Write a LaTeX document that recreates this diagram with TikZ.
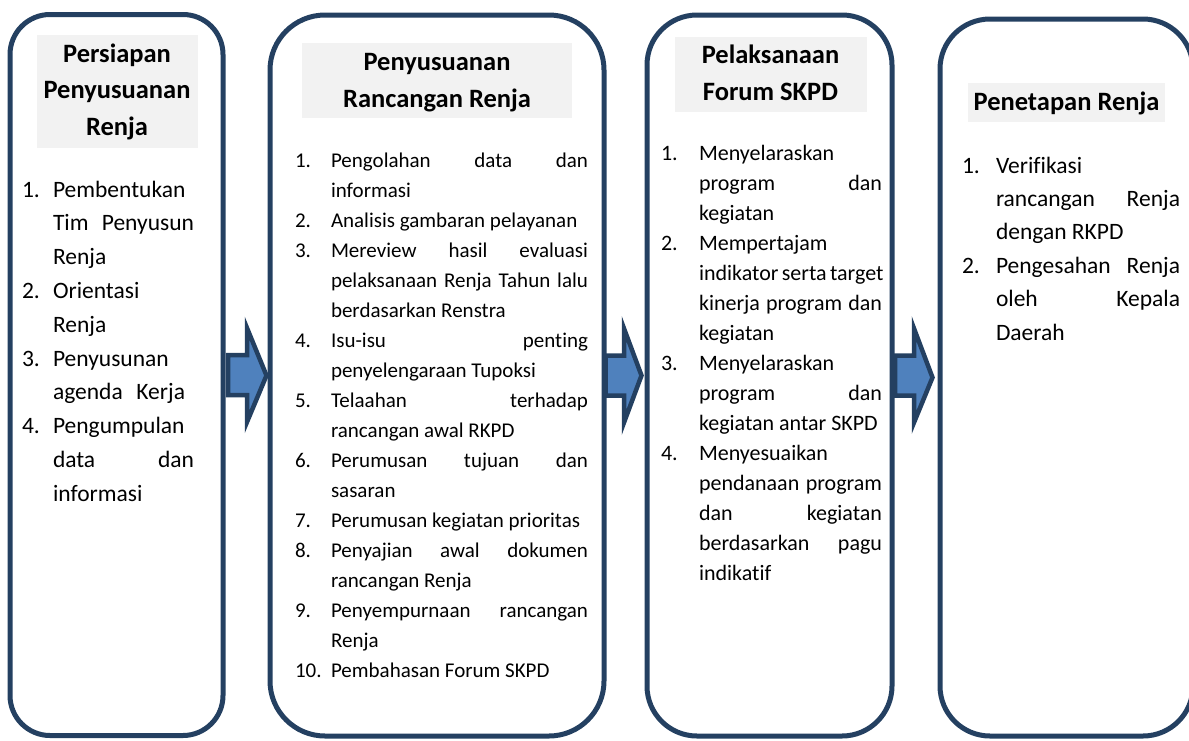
\documentclass[tikz,border=0pt]{standalone}
\usepackage{fontspec}
\setmainfont{Carlito}[Ligatures=NoCommon]
\usetikzlibrary{calc}
\definecolor{navy}{RGB}{36,64,97}
\definecolor{arrowblue}{RGB}{79,129,189}
\definecolor{hdrgray}{RGB}{242,242,242}
\newlength\lw
\newcommand\J[1]{\makebox[\lw][s]{#1}}
\newcommand\barrow[6]{% from, to, left off, head off, tip off, name
  \draw[barrowstyle] ($(#1.east)+(#3,-20)$) coordinate (#6a) -- ($(#1.east)+(#4,-20)$) -- ($(#1.east)+(#4,-47)$)
    -- ($(#2.west)+(#5,0)$) -- ($(#1.east)+(#4,47)$) -- ($(#1.east)+(#4,20)$) -- ($(#1.east)+(#3,20)$) -- cycle;}
\begin{document}
\begin{tikzpicture}[x=1pt,y=-1pt,
  panel/.style={draw=navy,line width=5pt,fill=white,rectangle,inner sep=0pt},
  hdr/.style={fill=hdrgray,inner sep=0pt,rectangle},
  htext/.style={anchor=base,inner sep=0pt,font=\fontsize{26.5}{30}\selectfont\bfseries},
  body/.style={anchor=base west,inner sep=0pt,outer sep=0pt},
  bigfont/.style={font=\fontsize{23.5}{28}\selectfont},
  midfont/.style={font=\fontsize{21}{25}\selectfont},
  medfont/.style={font=\fontsize{22}{26}\selectfont},
  barrowstyle/.style={draw=navy,fill=arrowblue,line width=4.5pt,line join=miter}]
\useasboundingbox (0,0) rectangle (1189,740);
% panels
\node[panel,rounded corners=40pt,minimum width=213pt,minimum height=721pt] (p1) at (116.5,375) {};
\node[panel,rounded corners=55pt,minimum width=334pt,minimum height=721pt] (p2) at (437,375.5) {};
\node[panel,rounded corners=50pt,minimum width=245pt,minimum height=721pt] (p3) at (769.5,375.5) {};
\node[panel,rounded corners=50pt,minimum width=253pt,minimum height=717pt] (p4) at (1066.5,377.5) {};
% arrows
\barrow{p1}{p2}{2.5}{21.5}{-1}{ar1}
\barrow{p2}{p3}{-1}{17.5}{-3}{ar2}
\barrow{p3}{p4}{0.5}{19.5}{-5}{ar3}
% headers
\node[hdr,minimum width=161pt,minimum height=113pt] (h1) at (117.5,91.5) {};
\node[htext] (h1a) at (117,62) {Persiapan};
\node[htext] (h1b) at (117,98.5) {Penyusuanan};
\node[htext] (h1c) at (117,135) {Renja};
\node[hdr,minimum width=270pt,minimum height=75pt] (h2) at (437,80.5) {};
\node[htext] (h2a) at (437,70) {Penyusuanan};
\node[htext] (h2b) at (437,107) {Rancangan Renja};
\node[hdr,minimum width=192pt,minimum height=75pt] (h3) at (771,74.5) {};
\node[htext] (h3a) at (770.5,63) {Pelaksanaan};
\node[htext] (h3b) at (770.5,100) {Forum SKPD};
\node[hdr,minimum width=197pt,minimum height=39pt] (h4) at (1066.5,102.5) {};
\node[htext] (h4a) at (1066.5,110) {Penetapan Renja};
% box 1 body
\setlength\lw{141pt}
\foreach \t [count=\i] in {{Pembentukan},{\J{Tim Penyusun}},{Renja},{Orientasi},{Renja},{Penyusunan},{\makebox[132pt][s]{agenda Kerja}},{Pengumpulan},{\J{data dan}},{informasi}}
  \node[body,bigfont] (b1t\i) at (53,{197+33.8*(\i-1)}) {\t};
\foreach \n/\k in {1/1,2/4,3/6,4/8}
  \node[body,bigfont] (b1n\n) at (22,{197+33.8*(\k-1)}) {\n.};
% box 2 body
\setlength\lw{257pt}
\foreach \t [count=\i] in {{\J{Pengolahan data dan}},{informasi},{Analisis gambaran pelayanan},{\J{Mereview hasil evaluasi}},{\J{pelaksanaan Renja Tahun lalu}},{berdasarkan Renstra},{\J{Isu-isu penting}},{penyelengaraan Tupoksi},{\J{Telaahan terhadap}},{rancangan awal RKPD},{\J{Perumusan tujuan dan}},{sasaran},{Perumusan kegiatan prioritas},{\J{Penyajian awal dokumen}},{rancangan Renja},{\J{Penyempurnaan rancangan}},{Renja},{Pembahasan Forum SKPD}}
  \node[body,midfont] (b2t\i) at (331,{167+30*(\i-1)}) {\t};
\foreach \n/\k in {1/1,2/3,3/4,4/7,5/9,6/11,7/13,8/14,9/16,10/18}
  \node[body,midfont] (b2n\n) at (295,{167+30*(\k-1)}) {\n.};
% box 3 body
\setlength\lw{183pt}
\foreach \t [count=\i] in {{Menyelaraskan},{\J{program dan}},{kegiatan},{Mempertajam},{\J{indikator serta target}},{\J{kinerja program dan}},{kegiatan},{Menyelaraskan},{\J{program dan}},{kegiatan antar SKPD},{Menyesuaikan},{\J{pendanaan program}},{\J{dan kegiatan}},{\J{berdasarkan pagu}},{indikatif}}
  \node[body,medfont] (b3t\i) at (699,{160+30*(\i-1)}) {\t};
\foreach \n/\k in {1/1,2/4,3/8,4/11}
  \node[body,medfont] (b3n\n) at (661,{160+30*(\k-1)}) {\n.};
% box 4 body
\setlength\lw{184pt}
\foreach \t [count=\i] in {{Verifikasi},{\J{rancangan Renja}},{dengan RKPD},{\J{Pengesahan Renja}},{\J{oleh Kepala}},{Daerah}}
  \node[body,bigfont] (b4t\i) at (996,{173+33.4*(\i-1)}) {\t};
\foreach \n/\k in {1/1,2/4}
  \node[body,bigfont] (b4n\n) at (962,{173+33.4*(\k-1)}) {\n.};
\end{tikzpicture}
\end{document}
